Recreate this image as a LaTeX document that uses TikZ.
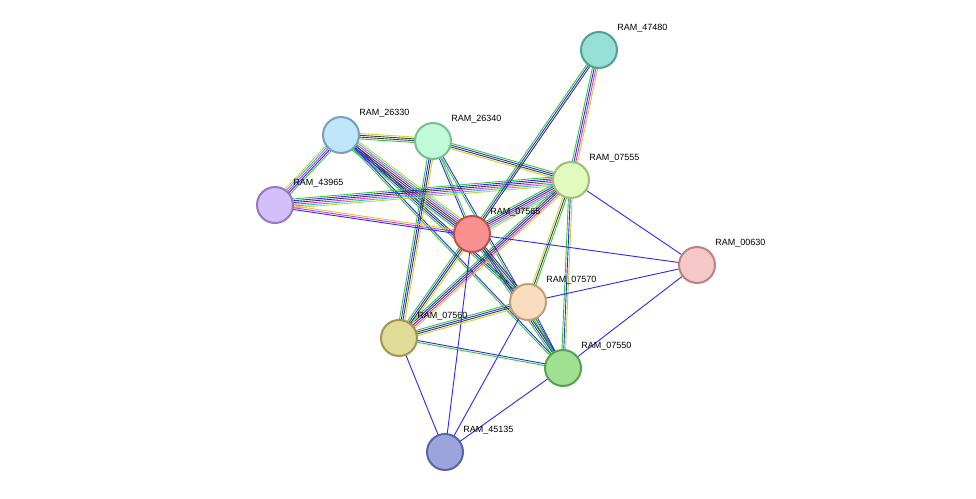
\documentclass[tikz,border=0pt]{standalone}
\usepackage{fontspec}
\setmainfont{Liberation Sans}
\usetikzlibrary{calc}
\definecolor{eG}{RGB}{51,200,51}
\definecolor{eB}{RGB}{40,40,245}
\definecolor{eK}{RGB}{60,60,60}
\definecolor{eM}{RGB}{225,40,225}
\definecolor{eC}{RGB}{40,185,220}
\definecolor{eY}{RGB}{195,210,50}
\tikzset{every picture/.style={line width=0.75pt}}
\tikzset{prot/.style={circle,minimum size=36pt,inner sep=0pt,line width=2pt},
  lab/.style={anchor=west,inner sep=0pt,font=\fontsize{9pt}{9pt}\selectfont}}
% parallel evidence lines between two proteins
\newcommand\lnk[4]{%
  \foreach \c [count=\i] in {#4} {%
    \pgfmathsetmacro\o{(\i-(#3+1)/2)*1.8}
    \draw[\c,line width=0.9pt] ($(#1)!\o pt!90:(#2)$) -- ($(#2)!\o pt!-90:(#1)$);
  }}
\begin{document}
\begin{tikzpicture}[x=1pt,y=-1pt]
	\useasboundingbox (0,0) rectangle (976,498);

	\coordinate (p47480) at (599,50);
	\coordinate (p26330) at (341,135);
	\coordinate (p26340) at (433,141);
	\coordinate (p07555) at (571,180);
	\coordinate (p43965) at (275,205);
	\coordinate (p07565) at (472,234);
	\coordinate (p00630) at (697,265);
	\coordinate (p07570) at (528,302);
	\coordinate (p07560) at (399,338);
	\coordinate (p07550) at (563,368);
	\coordinate (p45135) at (445,452);

	%Edges
	\lnk{p26330}{p26340}{4}{eG,eK,eK,eY}
	\lnk{p26330}{p43965}{5}{eY,eC,eM,eB,eG}
	\lnk{p26330}{p07565}{7}{eG,eB,eK,eK,eM,eC,eY}
	\lnk{p26330}{p07570}{3}{eG,eB,eK}
	\lnk{p26330}{p07550}{2}{eG,eB}
	\lnk{p26340}{p07555}{4}{eY,eK,eB,eG}
	\lnk{p26340}{p07565}{2}{eB,eG}
	\lnk{p26340}{p07560}{4}{eG,eB,eK,eY}
	\lnk{p26340}{p07550}{2}{eG,eB}
	\lnk{p43965}{p07555}{6}{eY,eC,eM,eK,eB,eG}
	\lnk{p43965}{p07565}{3}{eB,eM,eY}
	\lnk{p47480}{p07565}{3}{eG,eB,eK}
	\lnk{p47480}{p07555}{4}{eG,eB,eM,eY}
	\lnk{p07555}{p07565}{6}{eG,eB,eK,eM,eC,eY}
	\lnk{p07555}{p07560}{5}{eG,eB,eK,eM,eY}
	\lnk{p07555}{p07570}{3}{eY,eK,eG}
	\lnk{p07555}{p07550}{3}{eG,eB,eY}
	\lnk{p07555}{p00630}{1}{eB}
	\lnk{p07565}{p00630}{1}{eB}
	\lnk{p07565}{p07560}{4}{eG,eB,eK,eY}
	\lnk{p07565}{p07570}{3}{eG,eB,eK}
	\lnk{p07565}{p07550}{3}{eG,eB,eK}
	\lnk{p07565}{p45135}{1}{eB}
	\lnk{p07570}{p07560}{4}{eG,eB,eK,eY}
	\lnk{p07570}{p07550}{2}{eG,eB}
	\lnk{p07570}{p00630}{1}{eB}
	\lnk{p07570}{p45135}{1}{eB}
	\lnk{p07560}{p07550}{2}{eG,eB}
	\lnk{p07560}{p45135}{1}{eB}
	\lnk{p07550}{p00630}{1}{eB}
	\lnk{p07550}{p45135}{1}{eB}

	%Proteins
	\node[prot,fill={rgb,255:red,150;green,224;blue,213},draw={rgb,255:red,80;green,160;blue,150}] (n47480) at (p47480) {};
	\node[prot,fill={rgb,255:red,192;green,230;blue,250},draw={rgb,255:red,120;green,160;blue,190}] (n26330) at (p26330) {};
	\node[prot,fill={rgb,255:red,192;green,250;blue,215},draw={rgb,255:red,120;green,190;blue,150}] (n26340) at (p26340) {};
	\node[prot,fill={rgb,255:red,225;green,250;blue,190},draw={rgb,255:red,160;green,190;blue,120}] (n07555) at (p07555) {};
	\node[prot,fill={rgb,255:red,210;green,192;blue,250},draw={rgb,255:red,150;green,120;blue,190}] (n43965) at (p43965) {};
	\node[prot,fill={rgb,255:red,250;green,145;blue,145},draw={rgb,255:red,190;green,80;blue,80}] (n07565) at (p07565) {};
	\node[prot,fill={rgb,255:red,245;green,200;blue,200},draw={rgb,255:red,190;green,130;blue,130}] (n00630) at (p00630) {};
	\node[prot,fill={rgb,255:red,250;green,220;blue,190},draw={rgb,255:red,190;green,160;blue,120}] (n07570) at (p07570) {};
	\node[prot,fill={rgb,255:red,222;green,220;blue,150},draw={rgb,255:red,160;green,150;blue,80}] (n07560) at (p07560) {};
	\node[prot,fill={rgb,255:red,160;green,225;blue,145},draw={rgb,255:red,90;green,160;blue,80}] (n07550) at (p07550) {};
	\node[prot,fill={rgb,255:red,155;green,165;blue,220},draw={rgb,255:red,90;green,100;blue,170}] (n45135) at (p45135) {};

	%Labels
	\foreach \n in {47480,26330,26340,07555,43965,07565,00630,07570,07560,07550,45135}
		\node[lab] (t\n) at ($(p\n)+(18,-22)$) {RAM\_\n};
\end{tikzpicture}
\end{document}
